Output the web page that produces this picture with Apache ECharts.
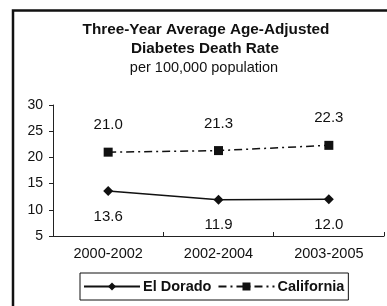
<!DOCTYPE html>
<html><head><meta charset="utf-8">
<script src="https://cdn.jsdelivr.net/npm/echarts@6/dist/echarts.min.js"></script>
<style>html,body{margin:0;padding:0;background:#fff}#c{width:387px;height:306px}</style>
</head><body><div id="c"></div>
<script>
const categories = ['2000-2002', '2002-2004', '2003-2005'];
const elDorado = [13.6, 11.9, 12.0];
const california = [21.0, 21.3, 22.3];
const yTicks = [5, 10, 15, 20, 25, 30];

const F = 'Liberation Sans, Arial, sans-serif';
const chart = echarts.init(document.getElementById('c'));
chart.setOption({
  animation: false,
  textStyle: { fontFamily: F, color: '#111' },
  graphic: [
    { type: 'rect', shape: { x: 13, y: 10.5, width: 420, height: 400 }, style: { fill: 'none', stroke: '#111', lineWidth: 2.5 } },
    { type: 'text', x: 206, y: 30, style: { text: 'Three-Year Average Age-Adjusted', font: 'bold 15.3px ' + F, fill: '#111', textAlign: 'center', textVerticalAlign: 'middle' } },
    { type: 'text', x: 205, y: 49, style: { text: 'Diabetes Death Rate', font: 'bold 15.3px ' + F, fill: '#111', textAlign: 'center', textVerticalAlign: 'middle' } },
    { type: 'text', x: 204, y: 68, style: { text: 'per 100,000 population', font: '14.5px ' + F, fill: '#111', textAlign: 'center', textVerticalAlign: 'middle' } }
  ],
  grid: { left: 53, right: 3, top: 105, bottom: 70 },
  legend: {
    top: 273, left: 80, itemGap: 6, itemWidth: 56, itemHeight: 10,
    padding: [6, 4, 6, 3], borderColor: '#111', borderWidth: 1, borderRadius: 0,
    textStyle: { fontFamily: F, fontSize: 14.5, fontWeight: 'bold', color: '#111', padding: [0, 0, 0, -2] },
    data: ['El Dorado', 'California']
  },
  xAxis: {
    type: 'category', data: categories, boundaryGap: true,
    axisLine: { lineStyle: { color: '#222', width: 1 } },
    axisTick: { show: true, length: 4, inside: true, lineStyle: { color: '#222' } },
    axisLabel: { fontSize: 14.5, color: '#111', margin: 10, fontFamily: F }
  },
  yAxis: {
    type: 'value', min: yTicks[0], max: yTicks[yTicks.length - 1], interval: 5,
    splitLine: { show: false },
    axisLine: { show: true, lineStyle: { color: '#222', width: 1 } },
    axisTick: { show: true, length: 4, lineStyle: { color: '#222' } },
    axisLabel: { fontSize: 14, color: '#111', margin: 10, fontFamily: F }
  },
  series: [
    {
      name: 'El Dorado', type: 'line', data: elDorado,
      symbol: 'diamond', symbolSize: 10,
      itemStyle: { color: '#111' }, lineStyle: { color: '#111', width: 1.5 },
      label: { show: true, position: 'bottom', distance: 13, fontSize: 15, color: '#111', fontFamily: F, formatter: p => p.value.toFixed(1) }
    },
    {
      name: 'California', type: 'line', data: california,
      symbol: 'rect', symbolSize: 9,
      itemStyle: { color: '#111' }, lineStyle: { color: '#111', width: 1.5, type: [8, 4, 2, 4] },
      label: { show: true, position: 'top', distance: 15, fontSize: 15, color: '#111', fontFamily: F, formatter: p => p.value.toFixed(1) }
    }
  ]
});
</script></body></html>
